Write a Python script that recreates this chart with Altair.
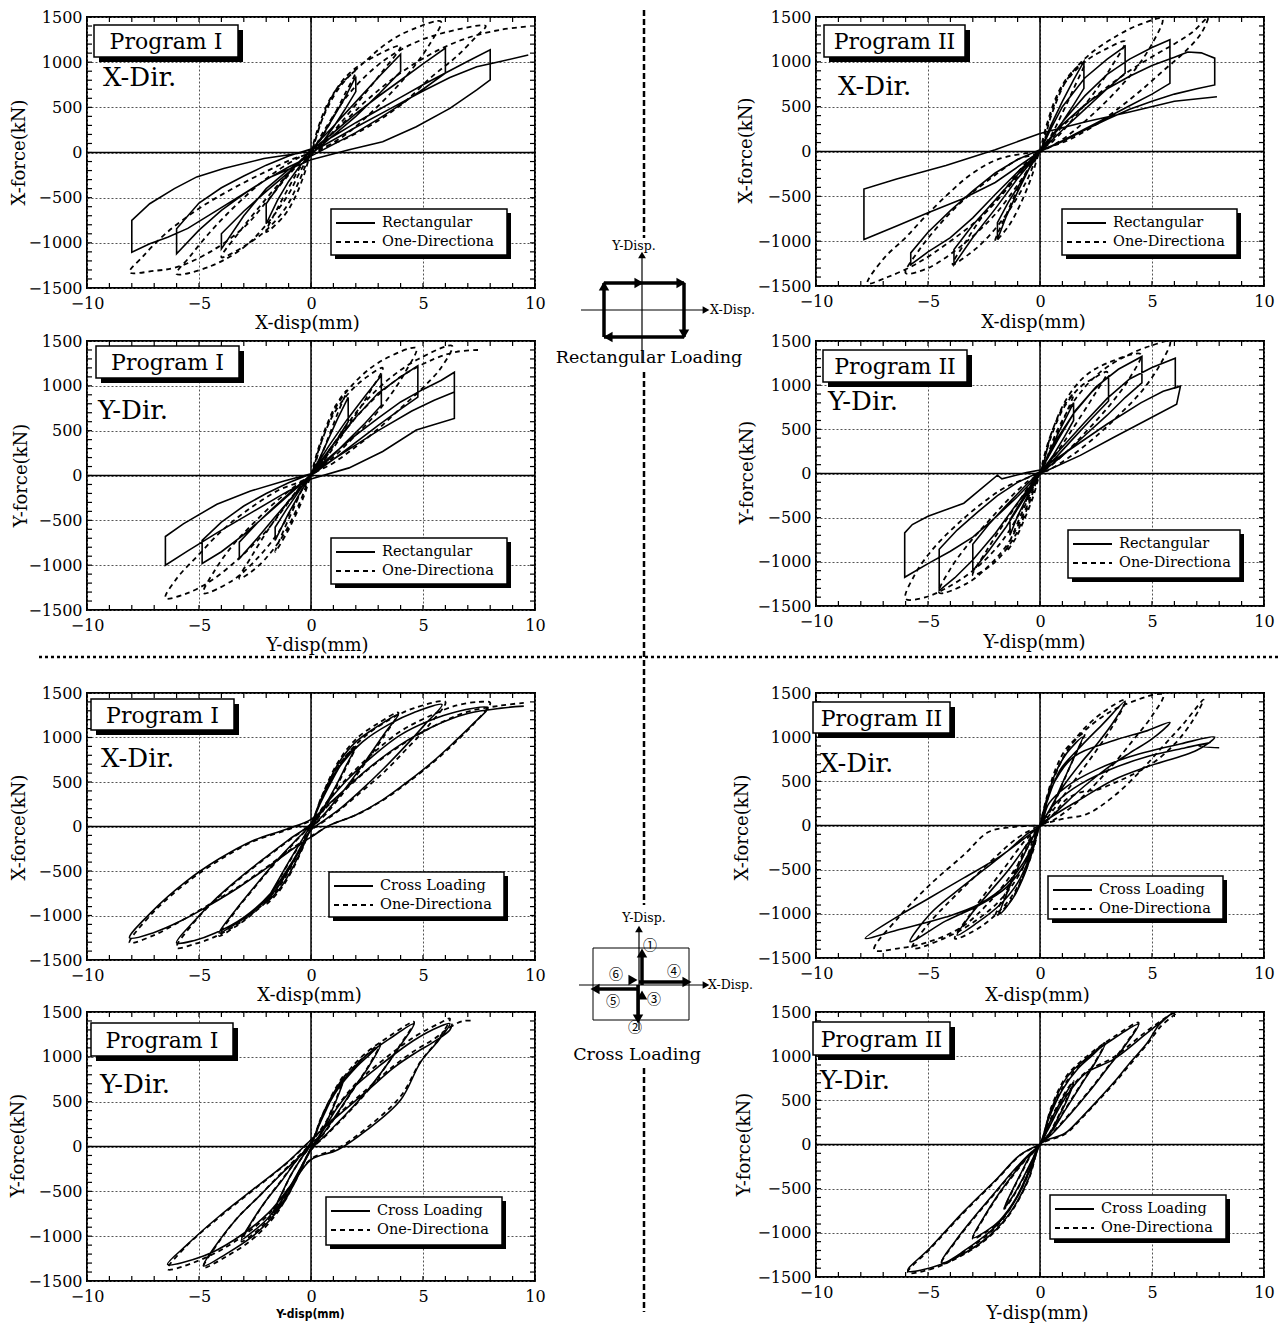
import altair as alt
import pandas as pd

SERIF = "DejaVu Serif"
ONE_DIR = "One-Directiona"

# ---------------- force-displacement loops: [disp (mm), force (kN)] ----------------
p1_rect = [[0,0],[0.5,180],[1,390],[1.5,600],[2,840],
    [2,674],[1.5,470],[1,280],[0.5,110],[0,-30],[-0.5,-150],[-1,-320],[-1.5,-530],[-2,-789],
    [-2,-567],[-1.5,-390],[-1,-230],[-0.5,-100],[0,30],[1,290],[2,560],[3,830],[4,1089],
    [4,896],[3,640],[2,400],[1,190],[0,-20],[-1,-190],[-2,-400],[-3,-700],[-4,-1067],
    [-4,-900],[-3,-650],[-2,-430],[-1,-220],[0,20],[1,220],[2,430],[3,620],[4,800],[5,980],[6,1156],
    [6,878],[5,700],[4,530],[3,370],[2,220],[1,90],[0,-40],[-1,-160],[-2,-300],[-3,-460],[-4,-640],[-5,-860],[-6,-1122],
    [-6,-844],[-5,-560],[-4,-390],[-3,-260],[-2,-140],[-1,-40],[0,40],[1,180],[2,330],[3,470],[4,610],[5,750],[6,880],[7,1010],[8,1137],
    [8,804],[7.4,693],[6.2,489],[4.7,285],[3.2,119],[1.7,30],[0,-80],[-1.8,-270],[-3,-456],[-4.2,-641],[-5.5,-840],[-6.4,-937],[-7.2,-1011],[-8,-1104],
    [-8,-752],[-7.2,-567],[-6.1,-400],[-5.1,-270],[-3.9,-178],[-2.1,-67],[-0.6,-11],[0.5,70],[2,280],[3.5,480],[5,680],[6.2,830],[7.4,950],[8.5,1010],[9.7,1080]]
p1_one = [[0,0],[0.3,260],[0.7,520],[1.2,720],[2,900],
    [1.5,640],[1,400],[0.5,170],[0,-10],[-0.3,-240],[-0.7,-490],[-1.2,-700],[-2,-880],
    [-1.5,-620],[-1,-390],[-0.5,-170],[0,10],[0.4,300],[0.9,600],[1.6,850],[2.6,1030],[4,1180],
    [3.2,900],[2.3,620],[1.3,320],[0.4,70],[0,-20],[-0.5,-300],[-1.1,-600],[-2,-860],[-3,-1040],[-4,-1160],
    [-3.2,-880],[-2.3,-600],[-1.3,-310],[-0.3,-50],[0,20],[0.55,396],[1.3,730],[2.5,1026],[3.5,1230],[4.5,1360],[5.8,1450],
    [5.3,1200],[4.5,920],[3.5,640],[2.5,400],[1.5,190],[0.5,40],[0,-20],[-0.5,-220],[-1,-460],[-2,-800],[-3,-1050],[-4.5,-1260],[-6,-1344],
    [-5.4,-1150],[-4.5,-880],[-3.5,-620],[-2.5,-390],[-1.5,-200],[-0.5,-50],[0,10],[0.6,250],[1.6,620],[3,970],[4.5,1200],[6,1330],[7.8,1400],
    [7.4,1290],[6.5,1063],[5.4,840],[4.1,544],[2.8,322],[1.4,137],[0,0],[-1,-250],[-2,-550],[-3,-830],[-4.5,-1100],[-6,-1270],[-7,-1310],[-8.1,-1326],
    [-7.5,-1150],[-6.5,-900],[-5,-620],[-3.5,-400],[-2,-210],[-0.8,-70],[0,0],[1,220],[2.5,580],[4,880],[5.5,1110],[7,1270],[8.5,1360],[9.7,1395]]

p2_rect = [[0,0],[0.5,300],[1,560],[1.5,800],[1.96,1004],
    [1.96,704],[1.5,520],[1,330],[0.5,150],[0,0],[-0.5,-200],[-1,-450],[-1.5,-720],[-1.9,-981],
    [-1.9,-794],[-1.4,-560],[-0.8,-320],[-0.3,-110],[0,0],[0.5,260],[1,500],[2,820],[3,1030],[3.8,1172],
    [3.8,873],[3,700],[2,470],[1,240],[0,0],[-1,-300],[-2,-640],[-3,-960],[-3.84,-1262],
    [-3.84,-1094],[-3,-820],[-2,-540],[-1,-260],[0,0],[1,330],[2,620],[3,860],[4,1030],[5,1160],[5.8,1247],
    [5.8,760],[5,640],[4,510],[3,380],[2,250],[1,120],[0,0],[-1,-230],[-2,-480],[-3,-740],[-4,-960],[-5,-1120],[-5.77,-1262],
    [-5.77,-1131],[-5,-900],[-4,-660],[-3,-440],[-2,-240],[-1,-90],[0,20],[1,300],[2,520],[3,700],[4,840],[5,960],[6,1050],[6.6,1110],[7.2,1100],[7.5,1070],[7.8,1041],
    [7.8,742],[7,700],[6,640],[5,560],[4,470],[3,360],[2,240],[1,110],[0,0],[-2,-345],[-3.5,-532],[-5,-682],[-6.4,-831],[-7.86,-981],
    [-7.86,-419],[-6.4,-307],[-4.2,-157],[-2,20],[0,200],[2,330],[4,440],[6,560],[7.9,610]]
p2_one = [[0,0],[0.3,300],[0.8,650],[1.4,880],[2,1000],
    [1.5,700],[1,430],[0.5,180],[0,0],[-0.4,-300],[-0.9,-600],[-1.4,-830],[-2,-1000],
    [-1.5,-700],[-1,-420],[-0.5,-180],[0,0],[0.4,350],[1,720],[2,1000],[3,1150],[3.8,1228],
    [3.2,950],[2.4,650],[1.5,370],[0.6,120],[0,0],[-0.6,-330],[-1.5,-700],[-2.5,-1000],[-3.2,-1150],[-3.9,-1260],
    [-3.3,-1000],[-2.5,-700],[-1.5,-400],[-0.6,-120],[0,0],[0.5,400],[1.2,800],[2.2,1080],[3.5,1300],[4.5,1420],[5.46,1480],
    [5,1200],[4.2,900],[3.2,620],[2.2,380],[1.2,170],[0.3,30],[0,0],[-0.8,-300],[-2,-700],[-3.5,-1050],[-5,-1300],[-6,-1356],
    [-5.4,-1100],[-4.5,-820],[-3.5,-560],[-2.2,-300],[-1,-90],[0,0],[1,280],[2.5,620],[4,900],[5.3,1100],[6,1200],[6.8,1330],[7.5,1495],
    [7.2,1320],[6.5,1120],[5.5,900],[4.5,680],[3.5,480],[2.5,300],[1.2,120],[0,0],[-1,-280],[-2.5,-700],[-4,-1000],[-5.5,-1250],[-6.8,-1400],[-7.7,-1470],
    [-7,-1200],[-6,-960],[-5.1,-719],[-4,-450],[-3,-240],[-1.8,-80],[0,0]]

p3_rect = [[0,0],[0.4,200],[0.8,420],[1.2,640],[1.66,871],
    [1.66,600],[1.2,420],[0.6,200],[0,0],[-0.5,-200],[-1,-420],[-1.6,-724],
    [-1.6,-577],[-1.1,-380],[-0.5,-160],[0,20],[0.8,330],[1.6,620],[2.4,880],[3.14,1114],
    [3.14,783],[2.4,580],[1.6,380],[0.8,180],[0,0],[-0.8,-230],[-1.6,-460],[-2.4,-700],[-3.2,-926],
    [-3.2,-743],[-2.4,-530],[-1.6,-340],[-0.8,-160],[0,10],[1,350],[2,650],[3,920],[4,1100],[4.77,1224],
    [4.77,875],[4,740],[3,560],[2,370],[1,180],[0,0],[-1,-220],[-2,-440],[-3,-660],[-4,-850],[-4.86,-982],
    [-4.86,-724],[-4,-520],[-3,-340],[-2,-200],[-1,-80],[0,20],[1,240],[2,450],[3,640],[4,820],[5,960],[5.8,1060],[6.4,1151],
    [6.4,636],[4.7,507],[3.2,268],[1.7,85],[0,-40],[-1.2,-200],[-2.7,-420],[-4.2,-640],[-5.5,-840],[-6.5,-1000],
    [-6.5,-680],[-5.7,-540],[-4.2,-320],[-2.7,-173],[-1.2,-62],[0,20],[1.5,260],[3,500],[4.5,720],[5.5,840],[6.4,930]]
p3_one = [[0,0],[0.3,280],[0.7,560],[1.1,780],[1.6,950],
    [1.2,700],[0.8,440],[0.4,190],[0,0],[-0.3,-220],[-0.7,-450],[-1.1,-650],[-1.6,-850],
    [-1.2,-600],[-0.8,-380],[-0.4,-160],[0,0],[0.4,330],[1,680],[1.8,950],[2.5,1100],[3.2,1200],
    [2.6,920],[1.9,640],[1.2,380],[0.5,140],[0,0],[-0.5,-300],[-1.2,-650],[-2,-920],[-2.7,-1080],[-3.2,-1150],
    [-2.6,-880],[-1.9,-600],[-1.2,-350],[-0.4,-100],[0,0],[0.5,400],[1.2,800],[2.2,1100],[3.3,1300],[4.7,1420],
    [4.2,1150],[3.5,880],[2.7,630],[1.8,400],[0.9,180],[0,0],[-0.7,-300],[-1.5,-650],[-2.5,-950],[-3.5,-1170],[-4.8,-1312],
    [-4.3,-1060],[-3.5,-780],[-2.6,-540],[-1.6,-300],[-0.6,-100],[0,0],[1,350],[2.2,760],[3.5,1080],[4.8,1300],[6.3,1445],
    [5.8,1200],[5,980],[4,750],[3,520],[2,320],[1,140],[0,0],[-1,-300],[-2,-620],[-3.2,-920],[-4.5,-1180],[-5.6,-1320],[-6.5,-1368],
    [-6,-1150],[-5,-880],[-4,-620],[-2.8,-380],[-1.5,-170],[0,0],[1.2,400],[2.5,780],[4,1100],[5.5,1300],[6.5,1380],[7.5,1400]]

p4_rect = [[0,0],[0.4,230],[0.8,450],[1.2,650],[1.5,802],
    [1.5,600],[1.1,420],[0.6,210],[0,0],[-0.5,-230],[-1,-480],[-1.34,-700],
    [-1.34,-522],[-0.9,-340],[-0.4,-140],[0,20],[0.7,370],[1.5,680],[2.3,920],[3.06,1101],
    [3.06,821],[2.3,620],[1.5,400],[0.7,180],[0,0],[-0.7,-280],[-1.5,-600],[-2.3,-880],[-3,-1100],
    [-3,-802],[-2.3,-580],[-1.5,-360],[-0.7,-150],[0,20],[0.8,380],[1.6,720],[2.5,980],[3.5,1180],[4.55,1325],
    [4.55,1026],[3.8,860],[3,660],[2,430],[1,200],[0,0],[-1,-330],[-2,-680],[-3,-980],[-3.8,-1180],[-4.5,-1325],
    [-4.5,-858],[-3.7,-640],[-2.8,-440],[-1.9,-250],[-1,-100],[0,20],[1,300],[2,580],[3,850],[4,1070],[5,1200],[6.04,1306],
    [6.04,970],[6.27,989],[6.1,784],[4.7,597],[3.3,410],[1.8,205],[0.3,30],[0,0],[-1,-260],[-2,-500],[-3,-720],[-4,-880],[-5,-1020],[-6.04,-1175],
    [-6.04,-672],[-5.7,-578],[-5,-485],[-3.4,-336],[-1.9,-19],[-1.7,-60],[-0.6,10],[0,40],[1.5,300],[3,560],[4.5,800],[5.5,930],[6.27,989]]
p4_one = [[0,0],[0.3,300],[0.7,580],[1.1,780],[1.5,900],
    [1.1,640],[0.7,400],[0.3,160],[0,0],[-0.3,-260],[-0.7,-520],[-1.1,-740],[-1.5,-880],
    [-1.1,-620],[-0.7,-380],[-0.3,-150],[0,0],[0.5,420],[1.1,760],[1.8,980],[2.4,1080],[3,1150],
    [2.4,880],[1.7,600],[1,330],[0.4,110],[0,0],[-0.5,-350],[-1.1,-700],[-1.8,-950],[-2.4,-1080],[-3,-1150],
    [-2.4,-880],[-1.7,-600],[-1,-340],[-0.4,-110],[0,0],[0.5,450],[1.2,850],[2,1100],[3,1250],[4.5,1350],
    [4,1080],[3.2,800],[2.3,540],[1.4,300],[0.5,90],[0,0],[-0.6,-380],[-1.4,-780],[-2.3,-1050],[-3.3,-1250],[-4.5,-1350],
    [-4,-1080],[-3.2,-800],[-2.3,-540],[-1.4,-290],[-0.5,-80],[0,0],[0.7,450],[1.6,850],[2.7,1150],[4,1350],[5,1450],[5.8,1495],
    [5.4,1250],[4.6,950],[3.6,680],[2.5,420],[1.4,200],[0.4,40],[0,0],[-0.8,-400],[-1.8,-800],[-3,-1100],[-4.2,-1300],[-5.1,-1399],[-6,-1418],
    [-5.6,-1150],[-4.8,-860],[-3.8,-600],[-2.7,-360],[-1.5,-150],[0,0]]

p5_cross = [[0,0],[0.4,250],[0.9,500],[1.4,720],[2,896],
    [1.6,700],[1.1,450],[0.5,180],[0,-20],[-0.4,-250],[-0.9,-500],[-1.4,-700],[-2,-850],
    [-1.5,-620],[-1,-400],[-0.4,-150],[0,20],[0.5,330],[1.2,700],[2,950],[3,1130],[3.9,1259],
    [3.3,1050],[2.5,760],[1.6,450],[0.7,170],[0,-30],[-0.7,-350],[-1.6,-720],[-2.7,-980],[-3.4,-1100],[-4.1,-1196],
    [-3.4,-950],[-2.6,-700],[-1.7,-430],[-0.7,-160],[0,30],[0.5,330],[1.3,680],[2.3,950],[3.5,1150],[4.6,1280],[5.85,1370],
    [5.1,1150],[4.2,900],[3.2,640],[2.2,400],[1.2,180],[0.3,20],[0,-40],[-0.8,-380],[-1.8,-750],[-3,-1020],[-4.3,-1200],[-5.2,-1280],[-6,-1307],
    [-5.2,-1060],[-4.2,-800],[-3.2,-580],[-2.1,-360],[-1,-150],[0,30],[0.6,230],[1.6,520],[2.8,800],[4,1030],[5.2,1180],[6.5,1290],[7.9,1333],
    [7.3,1170],[6.4,950],[5.4,720],[4.3,500],[3.2,300],[2,130],[0.8,10],[0,-120],[-0.8,-250],[-2,-470],[-3.2,-680],[-4.5,-880],[-5.8,-1060],[-7,-1190],[-8.1,-1252],
    [-7.1,-956],[-5.6,-622],[-4.1,-363],[-2.6,-159],[-1.1,-30],[0,80],[1,300],[2.5,640],[4,920],[5.5,1130],[7,1270],[8.5,1330],[9.5,1352]]
p5_one = [[0,0],[0.4,270],[0.9,530],[1.4,740],[2,900],
    [1.6,680],[1.1,430],[0.5,160],[0,-20],[-0.4,-260],[-0.9,-520],[-1.4,-720],[-2,-870],
    [-1.5,-630],[-1,-410],[-0.4,-160],[0,20],[0.5,350],[1.2,720],[2,980],[3,1160],[3.9,1280],
    [3.3,1030],[2.5,740],[1.6,430],[0.7,150],[0,-30],[-0.7,-370],[-1.6,-740],[-2.7,-1000],[-3.4,-1130],[-4.1,-1230],
    [-3.4,-960],[-2.6,-710],[-1.7,-440],[-0.7,-170],[0,30],[0.5,350],[1.3,710],[2.3,990],[3.5,1200],[4.6,1330],[6,1400],
    [5.3,1150],[4.3,880],[3.3,620],[2.2,380],[1.2,170],[0.3,10],[0,-40],[-0.8,-400],[-1.8,-780],[-3,-1050],[-4.3,-1240],[-5.2,-1320],[-6,-1363],
    [-5.2,-1070],[-4.2,-810],[-3.2,-590],[-2.1,-370],[-1,-160],[0,30],[0.6,240],[1.6,540],[2.8,830],[4,1070],[5.2,1230],[6.5,1360],[7.5,1400],[8,1390],
    [7.4,1190],[6.5,960],[5.5,730],[4.4,510],[3.3,310],[2.1,140],[0.9,20],[0,-110],[-0.8,-240],[-2,-460],[-3.2,-670],[-4.5,-870],[-5.8,-1060],[-7,-1220],[-8.1,-1307],
    [-7.1,-980],[-5.6,-640],[-4.1,-380],[-2.6,-170],[-1.1,-40],[0,70],[1,290],[2.5,630],[4,910],[5.5,1130],[7,1290],[8.5,1360],[9.5,1389]]

p6_cross = [[0,0],[0.3,300],[0.7,600],[1.2,820],[1.9,1000],
    [1.5,760],[1,480],[0.5,200],[0,0],[-0.3,-260],[-0.7,-560],[-1.2,-820],[-1.8,-1000],
    [-1.4,-720],[-0.9,-430],[-0.4,-170],[0,0],[0.3,259],[0.9,630],[1.8,889],[2.8,1148],[3.8,1407],
    [3.3,1180],[2.6,940],[1.8,700],[1,430],[0.3,120],[0,0],[-0.4,-320],[-1,-650],[-1.8,-900],[-2.8,-1100],[-3.7,-1241],
    [-3,-980],[-2.2,-740],[-1.4,-500],[-0.6,-220],[0,0],[0.5,420],[1.5,778],[3.3,963],[4.8,1074],[5.8,1167],
    [5,980],[4,820],[3,650],[2,450],[1,220],[0.2,30],[0,0],[-0.6,-400],[-1.5,-700],[-2.7,-900],[-4.2,-1080],[-5.8,-1315],
    [-4.9,-1000],[-3.8,-760],[-2.6,-520],[-1.5,-300],[-0.6,-100],[0,0],[0.4,250],[1.2,444],[2.5,630],[4,778],[6.3,926],[7.8,1000],
    [7,852],[4.8,667],[3.3,519],[1.8,296],[0.6,111],[0,0],[-0.45,-296],[-1.5,-667],[-2.7,-889],[-4.2,-1037],[-6.4,-1185],[-7.8,-1278],
    [-6.4,-1037],[-4.9,-815],[-3.4,-593],[-1.9,-370],[-0.9,-185],[0,0],[0.5,200],[1.5,420],[3,620],[4.8,780],[6.5,880],[7.6,940],[7.1,900],[8,880]]
p6_one = [[0,0],[0.3,320],[0.7,640],[1.2,880],[2,1050],
    [1.5,760],[1,470],[0.5,180],[0,0],[-0.3,-280],[-0.8,-600],[-1.3,-850],[-2,-1030],
    [-1.5,-740],[-1,-450],[-0.5,-170],[0,0],[0.4,380],[1,750],[1.8,1050],[2.8,1280],[3.8,1420],
    [3.3,1150],[2.6,880],[1.8,600],[1,320],[0.3,80],[0,0],[-0.5,-400],[-1.2,-780],[-2.2,-1060],[-3,-1200],[-3.8,-1280],
    [-3.1,-1000],[-2.3,-720],[-1.5,-450],[-0.7,-180],[0,0],[0.5,450],[1.3,880],[2.5,1180],[3.8,1370],[5.5,1481],
    [5,1240],[4.2,980],[3.3,700],[2.4,450],[1.5,230],[0.6,60],[0,0],[-0.8,-500],[-1.8,-850],[-3,-1100],[-4.3,-1280],[-5.7,-1389],
    [-5,-1120],[-4,-850],[-3,-600],[-2,-360],[-1,-140],[0,0],[1,74],[2.1,130],[3.3,333],[4.5,620],[5.5,900],[6.4,1150],[7.3,1426],
    [6.8,1180],[6,920],[5,700],[4,560],[3.3,480],[2.5,400],[2,390],[1.2,300],[0.5,100],[0,0],[-1,-450],[-2.2,-850],[-3.5,-1150],[-5,-1320],[-6.3,-1390],[-7.4,-1407],
    [-6.3,-1037],[-4.9,-667],[-3.4,-333],[-2.3,-74],[-1.2,-18],[0,0]]

p7_cross = [[0,0],[0.3,200],[0.7,420],[1.1,620],[1.5,778],
    [1.2,560],[0.8,330],[0.4,130],[0,-20],[-0.4,-220],[-0.8,-420],[-1.2,-600],[-1.7,-740],
    [-1.3,-520],[-0.9,-320],[-0.4,-120],[0,20],[0.5,330],[1.2,640],[2,880],[2.6,1020],[3.1,1130],
    [2.6,900],[2,680],[1.3,420],[0.6,160],[0,-30],[-0.6,-300],[-1.3,-600],[-2,-820],[-2.6,-950],[-3.1,-1037],
    [-2.6,-820],[-2,-600],[-1.3,-380],[-0.6,-140],[0,30],[0.6,380],[1.4,720],[2.3,980],[3.5,1200],[4.6,1370],
    [4,1130],[3.3,880],[2.5,620],[1.6,370],[0.7,140],[0,-40],[-0.7,-380],[-1.6,-750],[-2.6,-1000],[-3.8,-1200],[-4.8,-1333],
    [-4.1,-1050],[-3.3,-800],[-2.3,-550],[-1.3,-300],[-0.4,-80],[0,40],[0.3,93],[1.2,444],[2,680],[3,889],[4.6,1185],[5.7,1333],[6.2,1370],
    [5.7,1185],[4.9,944],[4,519],[2.5,185],[1.2,-37],[0,-148],[-0.8,-400],[-1.9,-741],[-3.4,-1037],[-4.8,-1222],[-6.4,-1315],
    [-5.6,-1111],[-4.1,-778],[-2.6,-481],[-1.1,-185],[0,74],[1,300],[2.5,620],[3.7,880],[4.7,1050],[5.5,1170],[6.2,1300],[6.3,1370]]
p7_one = [[0,0],[0.3,220],[0.7,450],[1.1,650],[1.5,800],
    [1.2,580],[0.8,340],[0.4,130],[0,-20],[-0.4,-230],[-0.8,-440],[-1.2,-620],[-1.7,-760],
    [-1.3,-530],[-0.9,-320],[-0.4,-120],[0,20],[0.5,350],[1.2,670],[2,910],[2.6,1050],[3.1,1150],
    [2.6,910],[2,680],[1.3,410],[0.6,150],[0,-30],[-0.6,-310],[-1.3,-620],[-2,-840],[-2.6,-980],[-3.1,-1060],
    [-2.6,-830],[-2,-600],[-1.3,-370],[-0.6,-140],[0,30],[0.6,400],[1.4,750],[2.3,1010],[3.5,1230],[4.6,1390],
    [4,1140],[3.3,880],[2.5,610],[1.6,360],[0.7,130],[0,-40],[-0.7,-390],[-1.6,-770],[-2.6,-1030],[-3.8,-1230],[-4.8,-1350],
    [-4.1,-1060],[-3.3,-800],[-2.3,-550],[-1.3,-290],[-0.4,-70],[0,40],[1.2,460],[2,700],[3,920],[4.6,1220],[5.7,1370],[6.2,1426],
    [5.7,1200],[4.9,950],[4,560],[2.5,210],[1.2,-20],[0,-140],[-0.8,-400],[-1.9,-760],[-3.4,-1060],[-4.8,-1250],[-6.4,-1370],
    [-5.6,-1120],[-4.1,-790],[-2.6,-490],[-1.1,-190],[0,70],[1,310],[2.5,640],[3.7,900],[4.7,1080],[5.5,1200],[6.2,1330],[6.8,1400],[7.3,1400]]

p8_cross = [[0,0],[0.3,180],[0.7,380],[1.1,560],[1.5,704],
    [1.2,500],[0.8,300],[0.4,110],[0,0],[-0.4,-200],[-0.8,-400],[-1.2,-580],[-1.6,-719],
    [-1.2,-500],[-0.8,-300],[-0.4,-110],[0,0],[0.4,300],[1,620],[1.7,860],[2.3,1000],[2.9,1135],
    [2.4,900],[1.8,660],[1.1,380],[0.5,140],[0,0],[-0.5,-300],[-1.1,-620],[-1.8,-860],[-2.4,-980],[-3,-1056],
    [-2.5,-820],[-1.9,-580],[-1.2,-340],[-0.5,-120],[0,0],[0.5,400],[1.2,760],[2.2,1000],[3.3,1200],[4.4,1360],
    [3.8,1120],[3,860],[2.2,600],[1.3,330],[0.5,110],[0,0],[-0.5,-380],[-1.3,-760],[-2.2,-1020],[-3.3,-1220],[-4.4,-1337],
    [-3.8,-1100],[-3,-840],[-2.1,-570],[-1.2,-300],[-0.4,-90],[0,0],[0.3,142],[1.1,517],[2,800],[3.3,966],[4.8,1266],[5.9,1490],
    [5.3,1350],[4.8,1154],[4,920],[3.3,704],[2.5,480],[1.8,292],[1.1,124],[0.3,49],[0,0],[-0.3,-195],[-0.9,-532],[-1.9,-906],[-3.4,-1206],[-4.4,-1356],[-5.9,-1430],
    [-4.9,-1169],[-3.4,-757],[-1.9,-382],[-0.9,-120],[0,0]]
p8_one = [[0,0],[0.3,200],[0.7,400],[1.1,580],[1.5,720],
    [1.2,520],[0.8,310],[0.4,120],[0,0],[-0.4,-210],[-0.8,-410],[-1.2,-590],[-1.6,-730],
    [-1.2,-510],[-0.8,-310],[-0.4,-120],[0,0],[0.4,320],[1,640],[1.7,880],[2.3,1020],[2.9,1150],
    [2.4,910],[1.8,670],[1.1,390],[0.5,150],[0,0],[-0.5,-310],[-1.1,-630],[-1.8,-870],[-2.4,-990],[-3,-1070],
    [-2.5,-830],[-1.9,-590],[-1.2,-350],[-0.5,-130],[0,0],[0.5,420],[1.2,780],[2.2,1020],[3.3,1220],[4.4,1380],
    [3.8,1130],[3,870],[2.2,610],[1.3,340],[0.5,120],[0,0],[-0.5,-390],[-1.3,-770],[-2.2,-1030],[-3.3,-1230],[-4.4,-1350],
    [-3.8,-1110],[-3,-850],[-2.1,-580],[-1.2,-310],[-0.4,-100],[0,0],[0.3,150],[1.1,530],[2,810],[3.3,990],[4.8,1290],[5.9,1480],[6.1,1495],
    [5.4,1340],[4.8,1140],[4,900],[3.3,690],[2.5,470],[1.8,280],[1.1,115],[0.3,40],[0,0],[-0.3,-200],[-0.9,-540],[-1.9,-920],[-3.4,-1220],[-4.4,-1370],[-5.9,-1450],
    [-4.9,-1180],[-3.4,-770],[-1.9,-390],[-0.9,-125],[0,0]]

# ---------------- axes ----------------
X_LABELS = [-10, -5, 0, 5, 10]
Y_LABELS = [-1500, -1000, -500, 0, 500, 1000, 1500]
X_MINOR = [-10, -9, -8, -7, -6, -5, -4, -3, -2, -1, 0, 1, 2, 3, 4, 5, 6, 7, 8, 9, 10]
Y_MINOR = [v * 100 for v in range(-15, 16)]
TICK = 5

XS = alt.Scale(domain=[-10, 10], nice=False, zero=False)
YS = alt.Scale(domain=[-1500, 1500], nice=False, zero=False)

# panel layout: size, text boxes (pixel offsets inside each plot)
PANELS = {
    "p1": dict(solid=p1_rect, dashed=p1_one, name="Rectangular", prog="Program I", direc="X-Dir.",
               xtitle="X-disp(mm)", ytitle="X-force(kN)", w=448, h=271,
               box=(7, 8, 151, 40), dirpos=(16, 69), leg=(244, 192, 420, 238), xt=(220, 35), yt=(-68, 135)),
    "p2": dict(solid=p2_rect, dashed=p2_one, name="Rectangular", prog="Program II", direc="X-Dir.",
               xtitle="X-disp(mm)", ytitle="X-force(kN)", w=448, h=269,
               box=(8, 8, 149, 40), dirpos=(22, 78), leg=(246, 192, 421, 238), xt=(217, 36), yt=(-70, 133)),
    "p3": dict(solid=p3_rect, dashed=p3_one, name="Rectangular", prog="Program I", direc="Y-Dir.",
               xtitle="Y-disp(mm)", ytitle="Y-force(kN)", w=448, h=269,
               box=(9, 5, 152, 37), dirpos=(11, 78), leg=(244, 197, 420, 243), xt=(230, 35), yt=(-66, 134)),
    "p4": dict(solid=p4_rect, dashed=p4_one, name="Rectangular", prog="Program II", direc="Y-Dir.",
               xtitle="Y-disp(mm)", ytitle="Y-force(kN)", w=448, h=265,
               box=(7, 9, 151, 41), dirpos=(12, 69), leg=(252, 189, 424, 237), xt=(218, 36), yt=(-69, 131)),
    "p5": dict(solid=p5_cross, dashed=p5_one, name="Cross Loading", prog="Program I", direc="X-Dir.",
               xtitle="X-disp(mm)", ytitle="X-force(kN)", w=448, h=267,
               box=(4, 6, 147, 37), dirpos=(14, 74), leg=(242, 179, 417, 224), xt=(222, 35), yt=(-68, 134)),
    "p6": dict(solid=p6_cross, dashed=p6_one, name="Cross Loading", prog="Program II", direc="X-Dir.",
               xtitle="X-disp(mm)", ytitle="X-force(kN)", w=448, h=265,
               box=(-3, 9, 134, 40), dirpos=(4, 79), leg=(232, 183, 407, 226), xt=(221, 37), yt=(-74, 134)),
    "p7": dict(solid=p7_cross, dashed=p7_one, name="Cross Loading", prog="Program I", direc="Y-Dir.",
               xtitle="Y-disp(mm)", ytitle="Y-force(kN)", w=448, h=269,
               box=(4, 11, 146, 44), dirpos=(13, 81), leg=(239, 185, 415, 233), xt=(223, 32), yt=(-69, 133),
               small_xtitle=True),
    "p8": dict(solid=p8_cross, dashed=p8_one, name="Cross Loading", prog="Program II", direc="Y-Dir.",
               xtitle="Y-disp(mm)", ytitle="Y-force(kN)", w=448, h=265,
               box=(-3, 10, 134, 43), dirpos=(4, 77), leg=(234, 183, 410, 227), xt=(221, 36), yt=(-72, 132)),
}


def path_df(pairs):
    df = pd.DataFrame(pairs, columns=["x", "y"])
    df["i"] = range(len(df))
    return df


def panel(c):
    w, h = c["w"], c["h"]
    xt_kw = dict(titleFontSize=18, titleFont=SERIF, titleFontWeight="normal")
    if c.get("small_xtitle"):
        xt_kw = dict(titleFontSize=12, titleFont="DejaVu Sans Condensed", titleFontWeight="bold")
    xax = alt.Axis(values=X_LABELS, title=c["xtitle"], grid=True, labelFlush=False, format="d",
                   labelPadding=7, titleX=c["xt"][0], titleY=c["xt"][1], titleAlign="center",
                   titleBaseline="middle", **xt_kw)
    yax = alt.Axis(values=Y_LABELS, title=c["ytitle"], grid=True, titleAngle=270, format="d",
                   titleX=c["yt"][0], titleY=c["yt"][1], titleAlign="center",
                   titleBaseline="middle")
    X = alt.X("x:Q", scale=XS, axis=xax)
    Y = alt.Y("y:Q", scale=YS, axis=yax)

    zero_v = alt.Chart(pd.DataFrame({"x": [0]})).mark_rule(color="black", strokeWidth=1.5).encode(x=X)
    zero_h = alt.Chart(pd.DataFrame({"y": [0]})).mark_rule(color="black", strokeWidth=1.5).encode(y=Y)

    tx = pd.DataFrame({"x": X_MINOR})
    ty = pd.DataFrame({"y": Y_MINOR})
    t_top = alt.Chart(tx).mark_rule(color="black", strokeWidth=1.2).encode(
        x=X, y=alt.value(0), y2=alt.value(TICK))
    t_bot = alt.Chart(tx).mark_rule(color="black", strokeWidth=1.2).encode(
        x=X, y=alt.value(h), y2=alt.value(h - TICK))
    t_left = alt.Chart(ty).mark_rule(color="black", strokeWidth=1.2).encode(
        y=Y, x=alt.value(0), x2=alt.value(TICK))
    t_right = alt.Chart(ty).mark_rule(color="black", strokeWidth=1.2).encode(
        y=Y, x=alt.value(w), x2=alt.value(w - TICK))

    # cross-loading and one-directional loops are smooth; rectangular loops keep sharp drops
    solid_interp = "catmull-rom" if c["name"] == "Cross Loading" else "linear"
    solid = alt.Chart(path_df(c["solid"])).mark_line(
        color="black", strokeWidth=1.6, clip=True, interpolate=solid_interp).encode(
        x=X, y=Y, order="i:Q")
    dashed = alt.Chart(path_df(c["dashed"])).mark_line(
        color="black", strokeWidth=1.8, strokeDash=[5, 4], clip=True, interpolate="catmull-rom").encode(
        x=X, y=Y, order="i:Q")

    # "Program" label box with drop shadow, and direction caption
    bx0, by0, bx1, by1 = c["box"]
    one = pd.DataFrame({"t": [c["prog"]]})
    b_shadow = alt.Chart(one).mark_rect(color="black").encode(
        x=alt.value(bx0 + 5), x2=alt.value(bx1 + 5), y=alt.value(by0 + 5), y2=alt.value(by1 + 5))
    b_box = alt.Chart(one).mark_rect(fill="white", stroke="black", strokeWidth=1.5).encode(
        x=alt.value(bx0), x2=alt.value(bx1), y=alt.value(by0), y2=alt.value(by1))
    b_text = alt.Chart(one).mark_text(font=SERIF, fontSize=22, color="black",
                                      align="center", baseline="middle").encode(
        x=alt.value((bx0 + bx1) / 2), y=alt.value((by0 + by1) / 2 + 1), text="t:N")
    d_text = alt.Chart(pd.DataFrame({"t": [c["direc"]]})).mark_text(
        font=SERIF, fontSize=26, color="black", align="left", baseline="alphabetic").encode(
        x=alt.value(c["dirpos"][0]), y=alt.value(c["dirpos"][1]), text="t:N")

    # legend box with drop shadow
    lx0, ly0, lx1, ly1 = c["leg"]
    l_shadow = alt.Chart(one).mark_rect(color="black").encode(
        x=alt.value(lx0 + 4), x2=alt.value(lx1 + 4), y=alt.value(ly0 + 4), y2=alt.value(ly1 + 4))
    l_box = alt.Chart(one).mark_rect(fill="white", stroke="black", strokeWidth=1.5).encode(
        x=alt.value(lx0), x2=alt.value(lx1), y=alt.value(ly0), y2=alt.value(ly1))
    l_s = alt.Chart(one).mark_rule(color="black", strokeWidth=1.8).encode(
        x=alt.value(lx0 + 5), x2=alt.value(lx0 + 44), y=alt.value(ly0 + 14))
    l_d = alt.Chart(one).mark_rule(color="black", strokeWidth=2, strokeDash=[5, 4]).encode(
        x=alt.value(lx0 + 5), x2=alt.value(lx0 + 44), y=alt.value(ly0 + 33))
    l_t1 = alt.Chart(pd.DataFrame({"t": [c["name"]]})).mark_text(
        font=SERIF, fontSize=14.5, color="black", align="left", baseline="middle").encode(
        x=alt.value(lx0 + 51), y=alt.value(ly0 + 14), text="t:N")
    l_t2 = alt.Chart(pd.DataFrame({"t": [ONE_DIR]})).mark_text(
        font=SERIF, fontSize=14.5, color="black", align="left", baseline="middle").encode(
        x=alt.value(lx0 + 51), y=alt.value(ly0 + 33), text="t:N")

    return alt.layer(zero_v, zero_h, t_top, t_bot, t_left, t_right, solid, dashed,
                     b_shadow, b_box, b_text, d_text,
                     l_shadow, l_box, l_s, l_d, l_t1, l_t2).properties(width=w, height=h)


# ---------------- middle strip: separators and loading-path sketches ----------------
MID_W = 281
ROW_H = [324, 352, 319, 269]      # grid row pitch (plot height plus gap below)
MX = alt.Scale(domain=[0, MID_W], nice=False, zero=False)
MY = alt.Scale(domain=[0, ROW_H[0]], nice=False, zero=False, reverse=True)

sep_dash = [[109, -7, 109, 221], [109, 355, 109, 888], [109, 1051, 109, 1295]]
sep_dot = [[-496, 640, 744, 640]]
thin_axes = [[46, 293, 168, 293], [107, 345, 107, 241],
             [44, 968, 168, 968], [104, 1013, 104, 915]]
rect_path = [[69, 266, 149, 266], [149, 266, 149, 320], [149, 320, 69, 320], [69, 320, 69, 266]]
cross_path = [[107, 968, 107, 937], [103, 968, 103, 1000], [104, 965, 150, 965], [104, 972, 62, 972]]
cross_box = [[58, 931, 154, 1003]]
heads_axis = [[171, 293, "triangle-right"], [107, 238, "triangle-up"],
              [171, 968, "triangle-right"], [104, 912, "triangle-up"]]
heads_path = [[104, 266, "triangle-right"], [146, 266, "triangle-right"], [149, 317, "triangle-down"],
              [73, 320, "triangle-left"], [69, 269, "triangle-up"],
              [107, 936, "triangle-up"], [103, 1002, "triangle-down"], [152, 965, "triangle-right"],
              [60, 972, "triangle-left"], [98, 963, "triangle-right"], [107, 978, "triangle-up"]]
captions = [[114, 341, "Rectangular Loading"], [102, 1038, "Cross Loading"]]
axis_names_c = [[99, 229, "Y-Disp."], [109, 901, "Y-Disp."]]
axis_names_l = [[175, 293, "X-Disp."], [173, 968, "X-Disp."]]
step_marks = [[115, 929, "①"], [100, 1011, "②"], [119, 983, "③"],
              [139, 955, "④"], [78, 985, "⑤"], [81, 958, "⑥"]]


def seg_chart(rows, **mark):
    df = pd.DataFrame(rows, columns=["x", "y", "x2", "y2"])
    return alt.Chart(df).mark_rule(color="black", **mark).encode(
        x=alt.X("x:Q", scale=MX, axis=None), y=alt.Y("y:Q", scale=MY, axis=None),
        x2="x2:Q", y2="y2:Q")


def head_chart(rows, size):
    df = pd.DataFrame(rows, columns=["x", "y", "s"])
    return alt.Chart(df).mark_point(filled=True, color="black", opacity=1, size=size).encode(
        x=alt.X("x:Q", scale=MX, axis=None), y=alt.Y("y:Q", scale=MY, axis=None),
        shape=alt.Shape("s:N", scale=None))


def text_chart(rows, **mark):
    df = pd.DataFrame(rows, columns=["x", "y", "t"])
    return alt.Chart(df).mark_text(color="black", baseline="middle", **mark).encode(
        x=alt.X("x:Q", scale=MX, axis=None), y=alt.Y("y:Q", scale=MY, axis=None), text="t:N")


box_df = pd.DataFrame(cross_box, columns=["x", "y", "x2", "y2"])
box_chart = alt.Chart(box_df).mark_rect(fillOpacity=0, stroke="black", strokeWidth=1).encode(
    x=alt.X("x:Q", scale=MX, axis=None), y=alt.Y("y:Q", scale=MY, axis=None), x2="x2:Q", y2="y2:Q")

NO_FRAME = alt.ViewBackground(stroke="transparent")

mid = alt.layer(
    seg_chart(sep_dash, strokeWidth=2.5, strokeDash=[6, 3]),
    seg_chart(sep_dot, strokeWidth=2.5, strokeDash=[3, 3]),
    box_chart,
    seg_chart(thin_axes, strokeWidth=1.2),
    seg_chart(rect_path, strokeWidth=3.5),
    seg_chart(cross_path, strokeWidth=3.5),
    head_chart(heads_axis, 60),
    head_chart(heads_path, 110),
    text_chart(captions, font=SERIF, fontSize=17.5, align="center"),
    text_chart(axis_names_c, font=SERIF, fontSize=12.5, align="center"),
    text_chart(axis_names_l, font=SERIF, fontSize=12.5, align="left"),
    text_chart(step_marks, font="Noto Sans CJK JP", fontSize=14, align="center"),
).properties(width=MID_W, height=ROW_H[0], view=NO_FRAME)


def spacer(hgt):
    return alt.Chart(pd.DataFrame({"v": [0]})).mark_point(opacity=0).encode(
        x=alt.X("v:Q", axis=None), y=alt.Y("v:Q", axis=None)
    ).properties(width=MID_W, height=hgt, view=NO_FRAME)


P = {k: panel(v) for k, v in PANELS.items()}

cells = [P["p1"], mid, P["p2"],
         P["p3"], spacer(ROW_H[1]), P["p4"],
         P["p5"], spacer(ROW_H[2]), P["p6"],
         P["p7"], spacer(ROW_H[3]), P["p8"]]

chart = alt.concat(*cells, columns=3, spacing=0, bounds="flush").properties(
    padding={"left": 8, "top": 7, "right": 2, "bottom": 2},
    background="white",
).configure_view(
    stroke="black", strokeWidth=2
).configure_axis(
    labelFont=SERIF, labelFontSize=16, labelColor="black", labelPadding=5,
    titleFont=SERIF, titleFontSize=18, titleFontWeight="normal", titleColor="black",
    ticks=False, domain=False, grid=True,
    gridColor="#555555", gridDash=[2, 2], gridWidth=1,
)

chart.save("out.html", embed_options={"renderer": "svg", "actions": False})
